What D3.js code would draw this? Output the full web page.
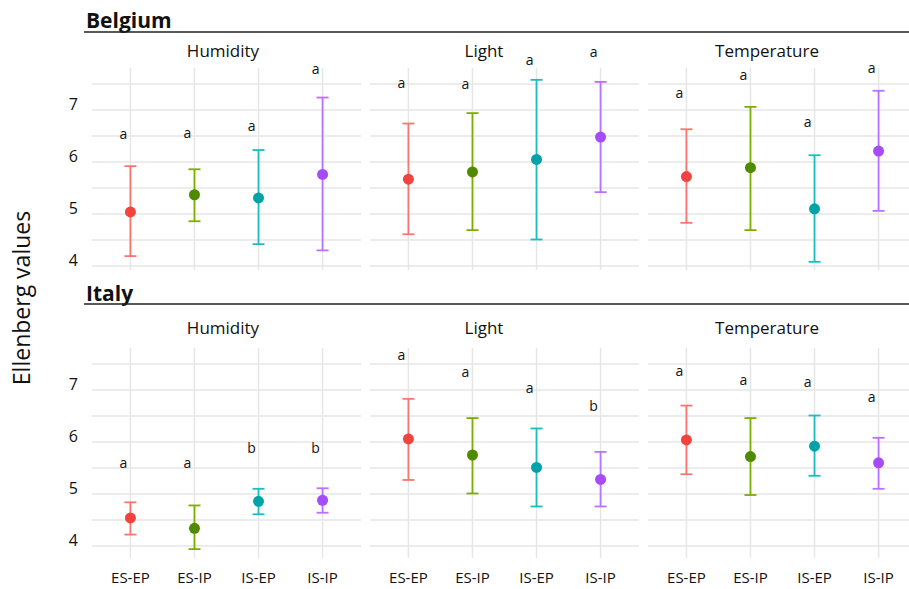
<!DOCTYPE html>
<html>
<head>
<meta charset="utf-8">
<script src="https://cdnjs.cloudflare.com/ajax/libs/d3/7.8.5/d3.min.js"></script>
<style>
    body { margin: 0; background: #fff; }
    text { font-family: "Open Sans", sans-serif; fill: #111; }
    .grid line { stroke: #e6e6e6; stroke-width: 1.5; }
    .country-label { font-weight: bold; font-size: 21px; }
    .strip-label { font-size: 17px; }
    .tick-label { font-size: 16px; }
    .x-label { font-size: 15px; }
    .letter { font-size: 14px; }
</style>
</head>
<body>
<div id="chart"></div>
<script>
// categories
var groups = ["ES-EP", "ES-IP", "IS-EP", "IS-IP"];
var countries = ["Belgium", "Italy"];
var indicators = ["Humidity", "Light", "Temperature"];
var yTicks = [4, 5, 6, 7];
var yMinor = [4.5, 5.5, 6.5, 7.5];

// Belgium: rows = Humidity, Light, Temperature; columns = groups
var belgiumMean = [[5.04, 5.37, 5.31, 5.76], [5.67, 5.81, 6.05, 6.48], [5.72, 5.89, 5.10, 6.21]];
var belgiumLow  = [[4.19, 4.86, 4.42, 4.30], [4.61, 4.69, 4.51, 5.42], [4.83, 4.69, 4.08, 5.06]];
var belgiumHigh = [[5.92, 5.86, 6.23, 7.24], [6.74, 6.94, 7.58, 7.54], [6.63, 7.06, 6.13, 7.37]];
var belgiumLetters = [["a", "a", "a", "a"], ["a", "a", "a", "a"], ["a", "a", "a", "a"]];
var belgiumLetterY = [[6.54, 6.56, 6.69, 7.79], [7.51, 7.49, 7.96, 8.12], [7.32, 7.67, 6.76, 7.81]];

// Italy
var italyMean = [[4.54, 4.34, 4.86, 4.88], [6.06, 5.75, 5.51, 5.28], [6.04, 5.72, 5.92, 5.60]];
var italyLow  = [[4.22, 3.94, 4.61, 4.64], [5.27, 5.01, 4.76, 4.76], [5.38, 4.98, 5.35, 5.10]];
var italyHigh = [[4.84, 4.78, 5.10, 5.11], [6.83, 6.46, 6.26, 5.81], [6.70, 6.46, 6.51, 6.08]];
var italyLetters = [["a", "a", "b", "b"], ["a", "a", "a", "b"], ["a", "a", "a", "a"]];
var italyLetterY = [[5.59, 5.59, 5.89, 5.89], [7.67, 7.35, 7.03, 6.69], [7.37, 7.19, 7.16, 6.87]];

var pointColors = ["#f2443f", "#4f8a00", "#00a3a8", "#a64cf7"];
var barColors = ["#f8766d", "#7cae00", "#1bbdc3", "#bd70ff"];

/*
 * FacetPlot - two rows (countries) of three panels (indicators)
 */
FacetPlot = function(_parentElement) {
    this.parentElement = _parentElement;
    this.initVis();
};

FacetPlot.prototype.initVis = function() {
    var vis = this;

    vis.width = 909;
    vis.height = 589;

    vis.svg = d3.select("#" + vis.parentElement).append("svg")
        .attr("width", vis.width)
        .attr("height", vis.height);

    vis.panelLeft = [92, 370, 648];
    vis.panelWidth = 269;
    vis.stripX = [223, 484, 767];

    // per row: panel top/bottom, y range for 4..7.5, label positions
    vis.rows = [
        { top: 68, bottom: 270, yRange: [266, 84], titleY: 28, ruleY: 32, stripY: 57 },
        { top: 348, bottom: 558, yRange: [546, 364], titleY: 301, ruleY: 304, stripY: 334 }
    ];

    vis.wrangleData();
};

FacetPlot.prototype.wrangleData = function() {
    var vis = this;
    var src = [
        [belgiumMean, belgiumLow, belgiumHigh, belgiumLetters, belgiumLetterY],
        [italyMean, italyLow, italyHigh, italyLetters, italyLetterY]
    ];

    vis.displayData = countries.map(function(c, ci) {
        var s = src[ci];
        return {
            country: c,
            panels: indicators.map(function(ind, ii) {
                return {
                    indicator: ind,
                    values: groups.map(function(g, gi) {
                        return {
                            group: g, gi: gi,
                            mean: s[0][ii][gi], low: s[1][ii][gi], high: s[2][ii][gi],
                            letter: s[3][ii][gi], letterY: s[4][ii][gi]
                        };
                    })
                };
            })
        };
    });

    vis.updateVis();
};

FacetPlot.prototype.updateVis = function() {
    var vis = this;

    // y axis title
    vis.svg.append("text")
        .attr("transform", "translate(30,298) rotate(-90)")
        .attr("text-anchor", "middle")
        .style("font-size", "23px")
        .text("Ellenberg values");

    vis.displayData.forEach(function(row, ri) {
        var r = vis.rows[ri];
        var y = d3.scaleLinear().domain([4, 7.5]).range(r.yRange);

        // country title + rule
        vis.svg.append("text")
            .attr("class", "country-label")
            .attr("x", 86)
            .attr("y", r.titleY)
            .text(row.country);

        vis.svg.append("line")
            .attr("x1", 84).attr("x2", vis.width)
            .attr("y1", r.ruleY).attr("y2", r.ruleY)
            .style("stroke", "#222")
            .style("stroke-width", 1.5);

        // y tick labels
        vis.svg.selectAll(".ytick-" + ri)
            .data(yTicks)
            .enter().append("text")
            .attr("class", "tick-label ytick-" + ri)
            .attr("x", 78)
            .attr("y", function(d) { return y(d) - 6; })
            .attr("dy", "0.35em")
            .attr("text-anchor", "end")
            .text(function(d) { return d; });

        row.panels.forEach(function(panel, pi) {
            var left = vis.panelLeft[pi];
            var x = d3.scalePoint()
                .domain(groups)
                .range([left, left + vis.panelWidth])
                .padding(0.6);

            var g = vis.svg.append("g").attr("class", "panel");

            var grid = g.append("g").attr("class", "grid");
            grid.selectAll(".hgrid")
                .data(yTicks.concat(yMinor))
                .enter().append("line")
                .attr("x1", left).attr("x2", left + vis.panelWidth)
                .attr("y1", function(d) { return y(d); })
                .attr("y2", function(d) { return y(d); });
            grid.selectAll(".vgrid")
                .data(groups)
                .enter().append("line")
                .attr("x1", function(d) { return x(d); })
                .attr("x2", function(d) { return x(d); })
                .attr("y1", r.top).attr("y2", r.bottom);

            // strip label
            g.append("text")
                .attr("class", "strip-label")
                .attr("x", vis.stripX[pi])
                .attr("y", r.stripY)
                .attr("text-anchor", "middle")
                .text(panel.indicator);

            // error bars
            var bars = g.selectAll(".errbar")
                .data(panel.values)
                .enter().append("g")
                .attr("class", "errbar")
                .style("stroke", function(d) { return barColors[d.gi]; })
                .style("stroke-width", 1.8);

            bars.append("line")
                .attr("x1", function(d) { return x(d.group); })
                .attr("x2", function(d) { return x(d.group); })
                .attr("y1", function(d) { return y(d.low); })
                .attr("y2", function(d) { return y(d.high); });
            bars.append("line")
                .attr("x1", function(d) { return x(d.group) - 6; })
                .attr("x2", function(d) { return x(d.group) + 6; })
                .attr("y1", function(d) { return y(d.low); })
                .attr("y2", function(d) { return y(d.low); });
            bars.append("line")
                .attr("x1", function(d) { return x(d.group) - 6; })
                .attr("x2", function(d) { return x(d.group) + 6; })
                .attr("y1", function(d) { return y(d.high); })
                .attr("y2", function(d) { return y(d.high); });

            // mean points
            g.selectAll(".mean")
                .data(panel.values)
                .enter().append("circle")
                .attr("class", "mean")
                .attr("cx", function(d) { return x(d.group); })
                .attr("cy", function(d) { return y(d.mean); })
                .attr("r", 5.5)
                .attr("fill", function(d) { return pointColors[d.gi]; });

            // significance letters
            g.selectAll(".letter")
                .data(panel.values)
                .enter().append("text")
                .attr("class", "letter")
                .attr("x", function(d) { return x(d.group) - 7; })
                .attr("y", function(d) { return y(d.letterY); })
                .attr("dy", "0.35em")
                .attr("text-anchor", "middle")
                .text(function(d) { return d.letter; });

            // x labels only on bottom row
            if (ri === vis.displayData.length - 1) {
                g.selectAll(".x-label")
                    .data(groups)
                    .enter().append("text")
                    .attr("class", "x-label")
                    .attr("x", function(d) { return x(d); })
                    .attr("y", 583)
                    .attr("text-anchor", "middle")
                    .text(function(d) { return d; });
            }
        });
    });
};

var plot = new FacetPlot("chart");
</script>
</body>
</html>
